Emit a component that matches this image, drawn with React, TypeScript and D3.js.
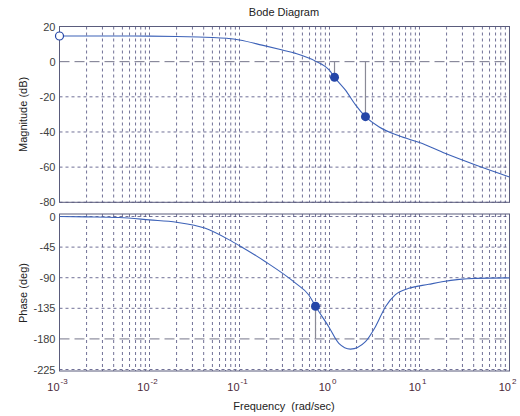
import * as d3 from "d3";

// magnitude response (rad/sec, dB)
const magFreq = [0.001, 0.003, 0.01, 0.02, 0.035, 0.05, 0.076, 0.1, 0.178, 0.3, 0.419, 0.699, 1.0, 1.137, 1.505, 1.945, 2.51, 3.53, 5.89, 10, 19.5, 42, 100];
const magDb = [14.6, 14.6, 14.5, 14.3, 14.0, 13.7, 13.2, 12.3, 9.4, 6.6, 4.7, 0.3, -5, -8.9, -16.2, -24.6, -31.3, -37.0, -42.2, -46.0, -52.3, -58.8, -65.6];

// phase response (rad/sec, deg)
const phaseFreq = [0.001, 0.002, 0.0046, 0.01, 0.02, 0.041, 0.076, 0.1, 0.194, 0.419, 0.589, 0.699, 0.98, 1.27, 1.71, 2.51, 3.24, 4.19, 5.41, 7.6, 12.7, 17.8, 41.8, 100];
const phaseDeg = [0, -0.5, -1.5, -5, -8.5, -17, -34, -43, -66.5, -98, -115.4, -132, -162, -186.5, -195, -184, -162, -132.6, -115, -105.6, -99.7, -96, -91, -90.3];

// stability margin markers
const gainMarginFreq = [1.137, 2.51];
const gainMarginDb = [-8.9, -31.3];
const phaseMarginFreq = [0.699];
const phaseMarginDeg = [-132];

const magTicks = [20, 0, -20, -40, -60, -80];
const phaseTicks = [0, -45, -90, -135, -180, -225];
const decades = [-3, -2, -1, 0, 1, 2];

const W = 520;
const H = 416;
const left = 59.5;
const right = 509.5;

const lineColor = "#3d62b8";
const markColor = "#2446a8";
const gridColor = "#4c4c7c";
const frameColor = "#5a5c7c";
const stemColor = "#8a8a96";
const font = "'Liberation Sans', Arial, sans-serif";

export default function App() {
  const x = d3.scaleLog().domain([1e-3, 1e2]).range([left, right]);
  const yMag = d3.scaleLinear().domain([-80, 20]).range([202.3, 26.5]);
  const yPh = d3.scaleLinear().domain([-227.2, 3.7]).range([371, 214]);

  const minorFreqs: number[] = [];
  for (let k = -3; k < 2; k++) {
    for (let m = 1; m < 10; m++) minorFreqs.push(m * Math.pow(10, k));
  }
  minorFreqs.push(100);

  const magLine = d3
    .line<number>()
    .x((_, i) => x(magFreq[i]))
    .y((d) => yMag(d))
    .curve(d3.curveMonotoneX);
  const phLine = d3
    .line<number>()
    .x((_, i) => x(phaseFreq[i]))
    .y((d) => yPh(d))
    .curve(d3.curveMonotoneX);

  const panel = (
    y: d3.ScaleLinear<number, number>,
    ticks: number[],
    refValue: number,
    key: string
  ) => {
    const [y0, y1] = y.range();
    return (
      <g key={key}>
        <rect x={left} y={y1} width={right - left} height={y0 - y1} fill="white" />
        {minorFreqs.map((f, i) => (
          <line key={"v" + i} x1={x(f)} x2={x(f)} y1={y1} y2={y0} stroke={gridColor} strokeWidth={0.8} strokeDasharray="3,3" />
        ))}
        {ticks
          .filter((t) => t !== refValue)
          .map((t) => (
            <line key={"h" + t} x1={left} x2={right} y1={y(t)} y2={y(t)} stroke={gridColor} strokeWidth={0.8} strokeDasharray="3,3" />
          ))}
        <line x1={left} x2={right} y1={y(refValue)} y2={y(refValue)} stroke="#75758a" strokeWidth={1} strokeDasharray="10,5" />
        <rect x={left} y={y1} width={right - left} height={y0 - y1} fill="none" stroke={frameColor} strokeWidth={1} />
        {ticks.map((t) => (
          <text key={"t" + t} x={left - 4} y={y(t) + 4} textAnchor="end" fontSize={11} fill="#404040" fontFamily={font}>
            {t}
          </text>
        ))}
      </g>
    );
  };

  return (
    <svg width={W} height={H} style={{ position: "absolute", left: 0, top: 0 }}>
      <rect width={W} height={H} fill="white" />
      <text x={284} y={16} textAnchor="middle" fontSize={11} fill="#222" fontFamily={font}>
        Bode Diagram
      </text>

      {panel(yMag, magTicks, 0, "mag")}
      {panel(yPh, phaseTicks, -180, "ph")}

      {/* margin stems */}
      {gainMarginFreq.map((f, i) => (
        <line key={"gs" + i} x1={x(f)} x2={x(f)} y1={yMag(0)} y2={yMag(gainMarginDb[i])} stroke={stemColor} strokeWidth={1.2} />
      ))}
      {phaseMarginFreq.map((f, i) => (
        <line key={"ps" + i} x1={x(f)} x2={x(f)} y1={yPh(-180)} y2={yPh(phaseMarginDeg[i])} stroke={stemColor} strokeWidth={1.2} />
      ))}

      <path d={magLine(magDb) ?? ""} fill="none" stroke={lineColor} strokeWidth={1.1} />
      <path d={phLine(phaseDeg) ?? ""} fill="none" stroke={lineColor} strokeWidth={1.1} />

      {gainMarginFreq.map((f, i) => (
        <circle key={"gm" + i} cx={x(f)} cy={yMag(gainMarginDb[i])} r={4.5} fill={markColor} />
      ))}
      {phaseMarginFreq.map((f, i) => (
        <circle key={"pm" + i} cx={x(f)} cy={yPh(phaseMarginDeg[i])} r={4.5} fill={markColor} />
      ))}
      <circle cx={x(magFreq[0])} cy={yMag(magDb[0])} r={4} fill="white" stroke={markColor} strokeWidth={1.2} />

      {/* x tick labels */}
      {decades.map((d) => (
        <text key={"x" + d} x={x(Math.pow(10, d)) - 2} y={391} textAnchor="middle" fontSize={11} fill="#4b2838" fontFamily={font}>
          10
          <tspan dx={1} dy={-7} fontSize={8}>
            {d}
          </tspan>
        </text>
      ))}

      <text x={284} y={410} textAnchor="middle" fontSize={11} fill="#222" fontFamily={font} style={{ whiteSpace: "pre" }}>
        Frequency  (rad/sec)
      </text>
      <text transform={`translate(27,${(yMag(20) + yMag(-80)) / 2}) rotate(-90)`} textAnchor="middle" fontSize={11} fill="#222" fontFamily={font}>
        Magnitude (dB)
      </text>
      <text transform={`translate(27,${(yPh(0) + yPh(-225)) / 2}) rotate(-90)`} textAnchor="middle" fontSize={11} fill="#222" fontFamily={font}>
        Phase (deg)
      </text>
    </svg>
  );
}
